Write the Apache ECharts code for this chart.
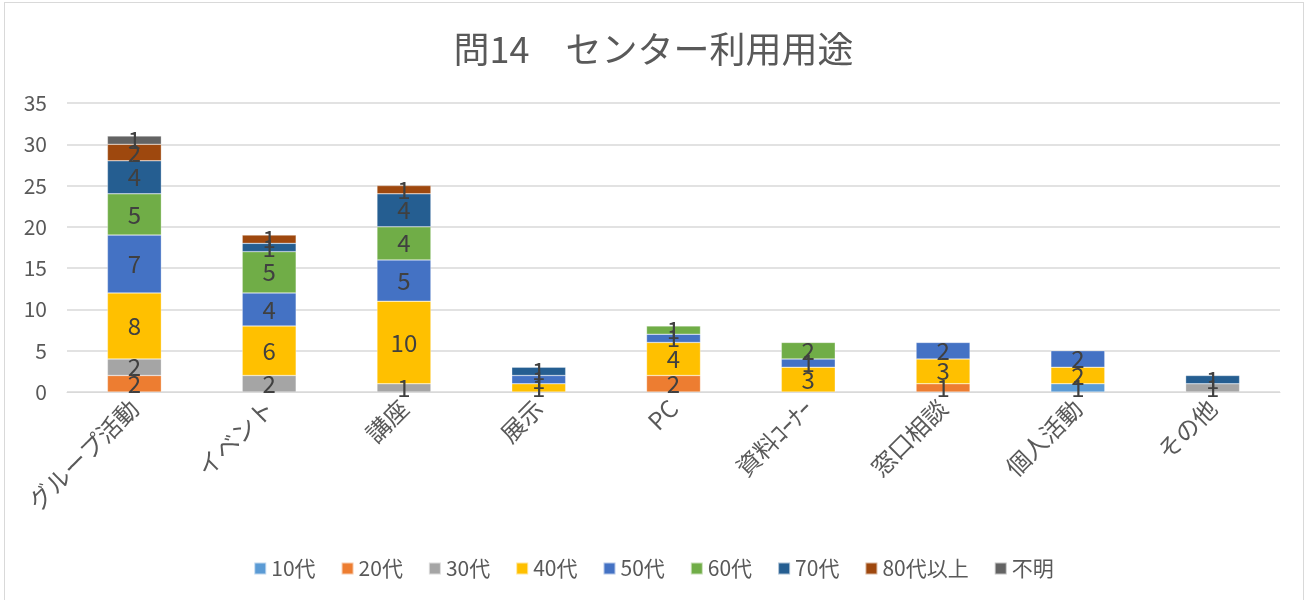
<!DOCTYPE html>
<html>
<head>
<meta charset="utf-8">
<script src="https://cdn.jsdelivr.net/npm/echarts@6/dist/echarts.min.js"></script>
<style>
  html, body { margin: 0; padding: 0; background: #fff; }
  #frame { position: absolute; left: 4px; top: 2px; width: 1300px; height: 610px; border: 1px solid #d9d9d9; box-sizing: border-box; }
  #main { width: 1307px; height: 600px; }
</style>
</head>
<body>
<div id="frame"></div>
<div id="main"></div>
<script>
// カテゴリ
var categories = ["グループ活動", "イベント", "講座", "展示", "PC", "資料ｺｰﾅｰ", "窓口相談", "個人活動", "その他"];
// 年代別の件数 (null = 0)
var age10 = [null, null, null, null, null, null, null, 1, null];
var age20 = [2, null, null, null, 2, null, 1, null, null];
var age30 = [2, 2, 1, null, null, null, null, null, 1];
var age40 = [8, 6, 10, 1, 4, 3, 3, 2, null];
var age50 = [7, 4, 5, 1, 1, 1, 2, 2, null];
var age60 = [5, 5, 4, null, 1, 2, null, null, null];
var age70 = [4, 1, 4, 1, null, null, null, null, 1];
var age80 = [2, 1, 1, null, null, null, null, null, null];
var unknown = [1, null, null, null, null, null, null, null, null];

var seriesNames = ["10代", "20代", "30代", "40代", "50代", "60代", "70代", "80代以上", "不明"];
var seriesData = [age10, age20, age30, age40, age50, age60, age70, age80, unknown];
var colors = ["#5B9BD5", "#ED7D31", "#A5A5A5", "#FFC000", "#4472C4", "#70AD47", "#255E91", "#9E480E", "#636363"];

var FONT = '"Noto Sans CJK JP", sans-serif';

var chart = echarts.init(document.getElementById("main"));

chart.setOption({
  animation: false,
  color: colors,
  textStyle: { fontFamily: FONT },
  title: {
    text: "問14　センター利用用途",
    left: "center",
    top: 26,
    textStyle: { fontSize: 36, fontWeight: "normal", color: "#595959", fontFamily: FONT }
  },
  legend: {
    bottom: 16,
    left: "center",
    itemWidth: 12,
    itemHeight: 12,
    itemGap: 25,
    icon: "rect",
    textStyle: { fontSize: 21, color: "#595959", fontFamily: FONT }
  },
  grid: { left: 67, right: 27, top: 103, bottom: 208 },
  xAxis: {
    type: "category",
    data: categories,
    axisTick: { show: false },
    axisLine: { lineStyle: { color: "#d9d9d9", width: 1 } },
    axisLabel: { rotate: 45, fontSize: 24, color: "#595959", margin: 12, interval: 0, fontFamily: FONT }
  },
  yAxis: {
    type: "value",
    min: 0,
    max: 35,
    interval: 5,
    axisLine: { show: false },
    axisTick: { show: false },
    splitLine: { lineStyle: { color: "#d9d9d9", width: 1.5 } },
    axisLabel: { fontSize: 21, color: "#595959", margin: 20, fontFamily: FONT }
  },
  series: seriesNames.map(function (name, i) {
    return {
      name: name,
      type: "bar",
      stack: "total",
      barWidth: "40%",
      data: seriesData[i],
      itemStyle: { borderColor: "rgba(255,255,255,0.6)", borderWidth: 0.5 },
      label: {
        show: true,
        position: "inside",
        fontSize: 24,
        color: "#404040",
        fontFamily: FONT
      }
    };
  })
});
</script>
</body>
</html>
